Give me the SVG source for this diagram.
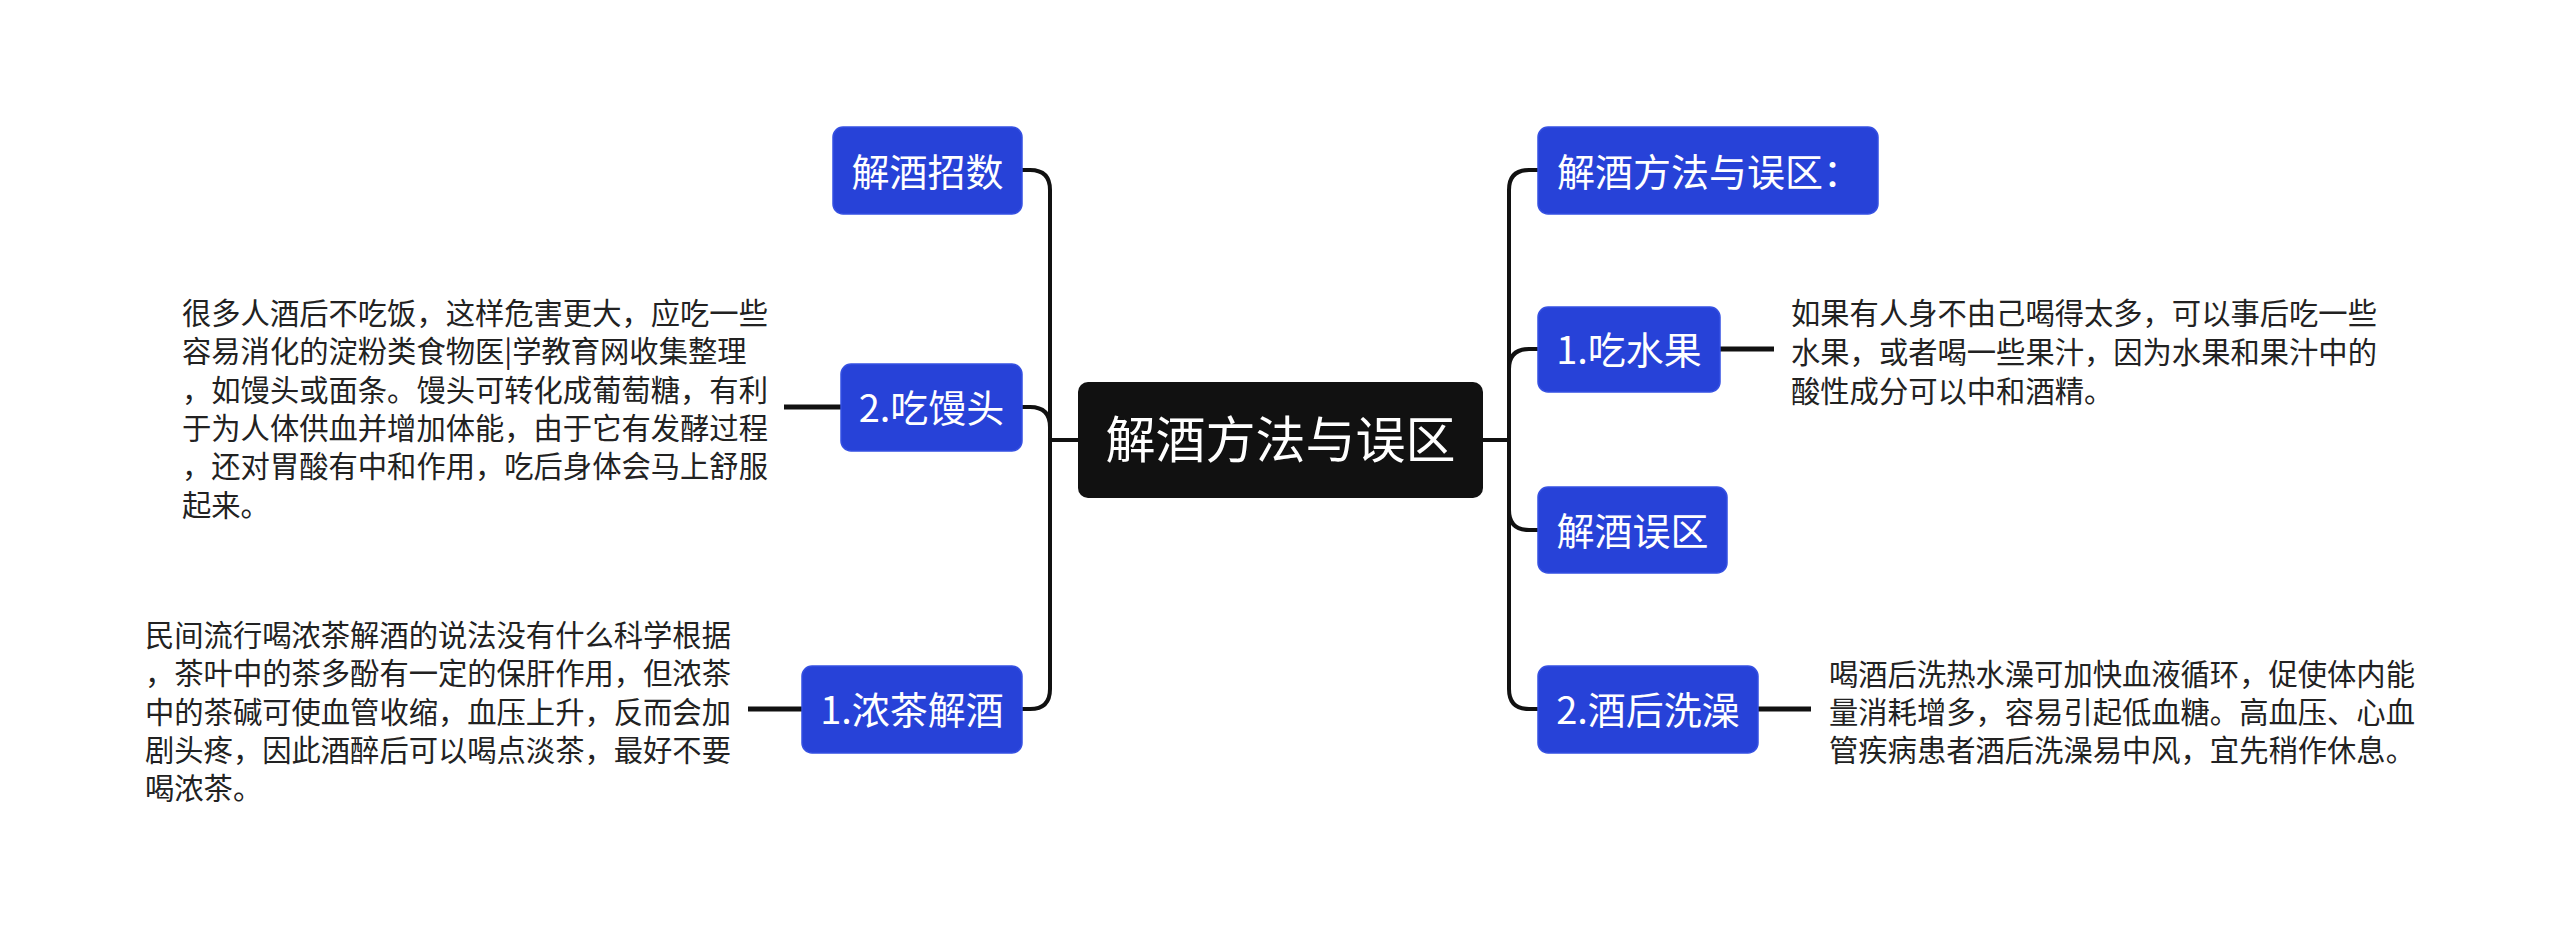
<svg xmlns="http://www.w3.org/2000/svg" width="2560" height="945" viewBox="0 0 2560 945">
<style>
.bg{fill:#ffffff}
.box{fill:#2742d8;stroke:#3550e2;stroke-width:1.5}
.root{fill:#111111}
.lbl{font-family:"Noto Sans CJK SC","Noto Sans",sans-serif;font-size:38px;fill:#ffffff;text-anchor:middle}
.rlbl{font-family:"Noto Sans CJK SC","Noto Sans",sans-serif;font-size:50px;fill:#ffffff;text-anchor:middle}
.desc{font-family:"Noto Sans CJK SC","Noto Sans",sans-serif;font-size:29.3px;fill:#222222}
.ln{fill:none;stroke:#111111;stroke-width:4;stroke-linecap:round;stroke-linejoin:round}
.dl{fill:none;stroke:#111111;stroke-width:5}
</style>
<rect class="bg" x="0" y="0" width="2560" height="945"/>
<g id="connectors">
<path class="ln" d="M1078,440 H1050"/>
<path class="ln" d="M1050,440 V190 Q1050,170 1030,170 H1022"/>
<path class="ln" d="M1050,440 V427 Q1050,407 1030,407 H1022"/>
<path class="ln" d="M1050,440 V689 Q1050,709 1030,709 H1022"/>
<path class="ln" d="M1483,440 H1509"/>
<path class="ln" d="M1509,440 V190 Q1509,170 1529,170 H1538"/>
<path class="ln" d="M1509,440 V369 Q1509,349 1529,349 H1538"/>
<path class="ln" d="M1509,440 V510 Q1509,530 1529,530 H1538"/>
<path class="ln" d="M1509,440 V689 Q1509,709 1529,709 H1538"/>
<path class="dl" d="M841,407 H784"/>
<path class="dl" d="M802,709 H748"/>
<path class="dl" d="M1720,349 H1774"/>
<path class="dl" d="M1758,709 H1811"/>
</g>
<g id="root">
<rect class="root" x="1078" y="382" width="405" height="116" rx="10"/>
<text class="rlbl" x="1280.5" y="458">解酒方法与误区</text>
</g>
<g id="n-zhaoshu">
<rect class="box" x="833" y="127" width="189" height="87" rx="10"/>
<text class="lbl" x="927.5" y="185.5">解酒招数</text>
</g>
<g id="n-mantou">
<rect class="box" x="841" y="364" width="181" height="87" rx="10"/>
<text class="lbl" x="931.5" y="422">2.吃馒头</text>
</g>
<g id="n-mantou-desc">
<text class="desc" x="182" y="324">很多人酒后不吃饭，这样危害更大，应吃一些</text>
<text class="desc" x="182" y="362.3">容易消化的淀粉类食物医|学教育网收集整理</text>
<text class="desc" x="182" y="400.6">，如馒头或面条。馒头可转化成葡萄糖，有利</text>
<text class="desc" x="182" y="438.9">于为人体供血并增加体能，由于它有发酵过程</text>
<text class="desc" x="182" y="477.2">，还对胃酸有中和作用，吃后身体会马上舒服</text>
<text class="desc" x="182" y="515.5">起来。</text>
</g>
<g id="n-nongcha">
<rect class="box" x="802" y="666" width="220" height="87" rx="10"/>
<text class="lbl" x="912" y="724">1.浓茶解酒</text>
</g>
<g id="n-nongcha-desc">
<text class="desc" x="145" y="646">民间流行喝浓茶解酒的说法没有什么科学根据</text>
<text class="desc" x="145" y="684.3">，茶叶中的茶多酚有一定的保肝作用，但浓茶</text>
<text class="desc" x="145" y="722.6">中的茶碱可使血管收缩，血压上升，反而会加</text>
<text class="desc" x="145" y="760.9">剧头疼，因此酒醉后可以喝点淡茶，最好不要</text>
<text class="desc" x="145" y="799.2">喝浓茶。</text>
</g>
<g id="n-fangfa">
<rect class="box" x="1538" y="127" width="340" height="87" rx="10"/>
<text class="lbl" x="1709" y="185.5">解酒方法与误区：</text>
</g>
<g id="n-shuiguo">
<rect class="box" x="1538" y="307" width="182" height="85" rx="10"/>
<text class="lbl" x="1629" y="364">1.吃水果</text>
</g>
<g id="n-shuiguo-desc">
<text class="desc" x="1791" y="324">如果有人身不由己喝得太多，可以事后吃一些</text>
<text class="desc" x="1791" y="363">水果，或者喝一些果汁，因为水果和果汁中的</text>
<text class="desc" x="1791" y="402">酸性成分可以中和酒精。</text>
</g>
<g id="n-wuqu">
<rect class="box" x="1538" y="487" width="189" height="86" rx="10"/>
<text class="lbl" x="1632.5" y="544.5">解酒误区</text>
</g>
<g id="n-xizao">
<rect class="box" x="1538" y="666" width="220" height="87" rx="10"/>
<text class="lbl" x="1648" y="724">2.酒后洗澡</text>
</g>
<g id="n-xizao-desc">
<text class="desc" x="1829" y="685">喝酒后洗热水澡可加快血液循环，促使体内能</text>
<text class="desc" x="1829" y="723">量消耗增多，容易引起低血糖。高血压、心血</text>
<text class="desc" x="1829" y="761">管疾病患者酒后洗澡易中风，宜先稍作休息。</text>
</g>
</svg>
